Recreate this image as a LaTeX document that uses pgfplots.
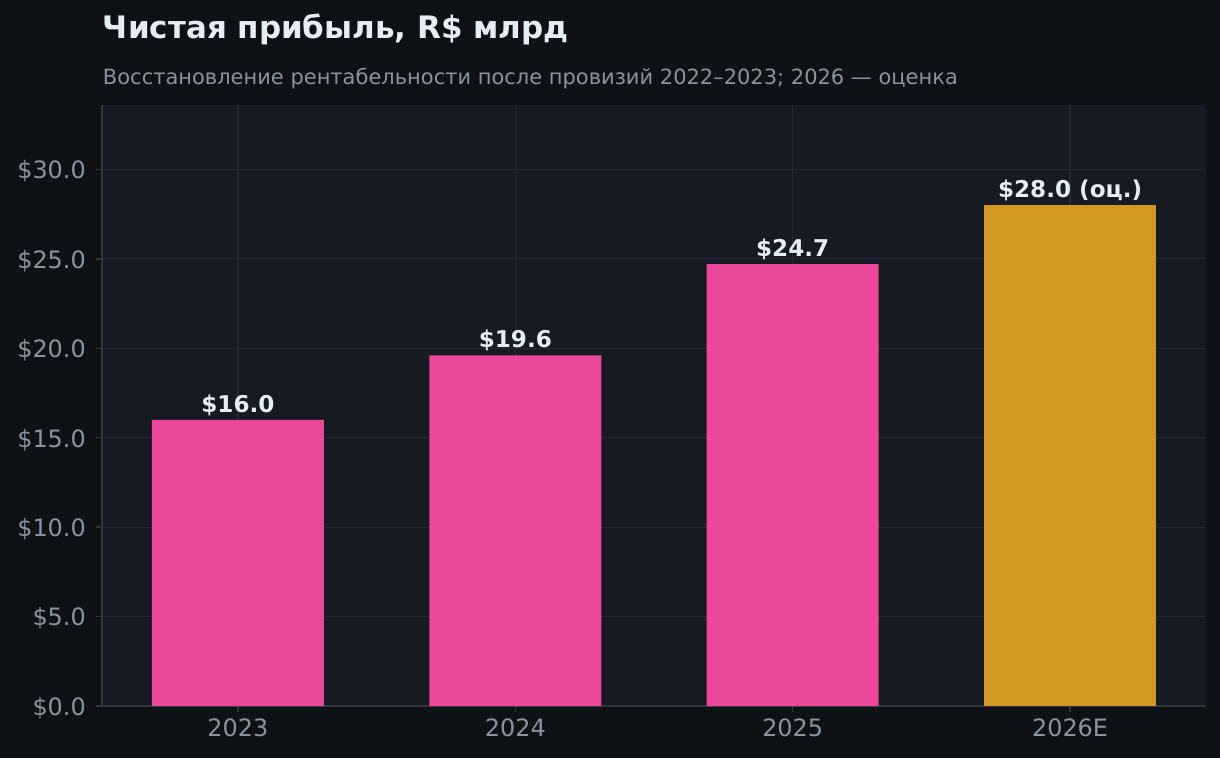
\documentclass[border=0pt]{standalone}
\usepackage{pgfplots}
\pgfplotsset{compat=1.18}
\usepackage{fontspec}
\setmainfont{DejaVu Sans}
\definecolor{figbg}{HTML}{0E1217}
\definecolor{axbg}{HTML}{161A22}
\definecolor{gridc}{HTML}{242932}
\definecolor{spine}{HTML}{30363D}
\definecolor{tickc}{HTML}{8B949E}
\definecolor{titlec}{HTML}{E6EDF3}
\definecolor{labc}{HTML}{E6EDF3}
\definecolor{pinkbar}{HTML}{EC4899}
\definecolor{goldbar}{HTML}{D29922}
\begin{document}
\begin{tikzpicture}
\fill[figbg] (-51bp,-26bp) rectangle (559bp,353bp);
\path[use as bounding box] (-51bp,-26bp) rectangle (559bp,353bp);
\begin{axis}[
  at={(0,0)}, anchor=south west,
  scale only axis, width=552bp, height=300.5bp,
  xmin=-0.49, xmax=3.49, ymin=0, ymax=33.6,
  axis background/.style={fill=axbg},
  axis x line*=bottom, axis y line*=left,
  axis line style={draw=spine, line width=0.7bp, -},
  xtick={0,1,2,3}, xticklabels={2023,2024,2025,2026E},
  ytick={0,5,10,15,20,25,30},
  yticklabel={\$\pgfmathprintnumber[fixed,fixed zerofill,precision=1]{\tick}},
  /pgf/number format/assume math mode=true,
  grid=major, major grid style={draw=gridc, line width=0.6bp},
  tick style={draw=spine, line width=0.7bp},
  major tick length=2.8bp, tick align=outside,
  ticklabel style={font=\fontsize{12}{14}\selectfont, text=tickc},
  yticklabel style={xshift=-1.8bp, yshift=-1bp},
  ybar, bar width=0.62, bar shift=0pt,
  nodes near coords, point meta=explicit symbolic,
  every node near coord/.append style={font=\bfseries\fontsize{11.6}{13}\selectfont, text=labc, anchor=base, yshift=3.8bp},
  clip=false,
]
\addplot[fill=pinkbar, draw=none] coordinates {(0,16.0) [\$16.0] (1,19.6) [\$19.6] (2,24.7) [\$24.7]};
\addplot[fill=goldbar, draw=none] coordinates {(3,28.0) [\$28.0 (оц.)]};
\end{axis}
\node[anchor=base west, inner sep=0pt, text=titlec, font=\bfseries\fontsize{15.55}{18}\selectfont] at (0.3bp,333.8bp) {Чистая прибыль, R\$ млрд};
\node[anchor=base west, inner sep=0pt, text=tickc, font=\fontsize{10.53}{12}\selectfont] at (0.3bp,310.5bp) {Восстановление рентабельности после провизий 2022–2023; 2026 — оценка};
\end{tikzpicture}
\end{document}
